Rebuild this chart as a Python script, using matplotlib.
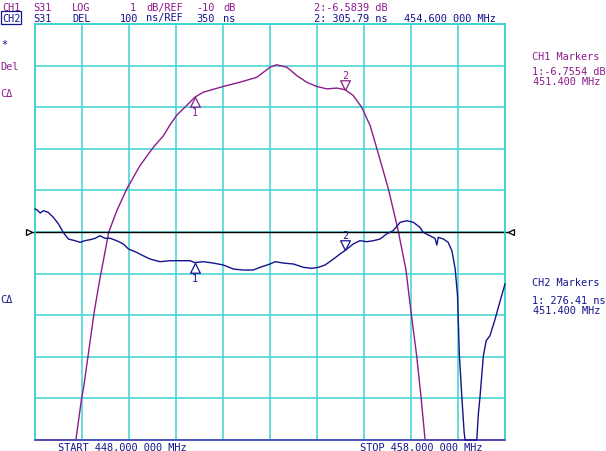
"""Network analyzer screen: S31 log magnitude (CH1) and group delay (CH2)."""
import matplotlib

matplotlib.use("Agg")
import matplotlib.pyplot as plt
from matplotlib.path import Path
import numpy as np

# CH1: S31 LOG MAG, frequency in MHz, level in dB (clipped at -15 dB on screen)
ch1_freq = [448.00, 448.87, 448.99, 449.03, 449.13, 449.26, 449.38, 449.57, 449.74,
            449.95, 450.23, 450.52, 450.73, 450.87, 451.01, 451.19, 451.40, 451.58,
            452.01, 452.36, 452.72, 453.00, 453.14, 453.36, 453.57, 453.78, 453.99,
            454.21, 454.42, 454.60, 454.77, 454.95, 455.13, 455.27, 455.52, 455.72,
            455.89, 456.01, 456.12, 456.21, 456.30, 458.00]
ch1_db = [-15.0, -15.0, -14.01, -13.77, -12.97, -11.92, -11.13, -10.00, -9.49,
          -8.97, -8.41, -7.96, -7.69, -7.43, -7.20, -7.00, -6.76, -6.64,
          -6.50, -6.40, -6.28, -6.04, -5.98, -6.04, -6.24, -6.40, -6.50,
          -6.56, -6.54, -6.58, -6.72, -7.00, -7.44, -7.98, -8.97, -9.93,
          -10.89, -12.01, -12.97, -13.93, -15.0, -15.0]

# CH2: S31 DELAY, frequency in MHz, delay in ns (clipped at -150 ns on screen)
ch2_freq = [448.00, 448.04, 448.11, 448.18, 448.28, 448.39, 448.50, 448.60, 448.71,
            448.85, 448.96, 449.06, 449.17, 449.28, 449.38, 449.49, 449.60, 449.74,
            449.88, 449.99, 450.16, 450.30, 450.45, 450.66, 450.87, 451.09, 451.30,
            451.40, 451.58, 451.79, 452.01, 452.22, 452.43, 452.64, 452.79, 453.00,
            453.11, 453.28, 453.50, 453.71, 453.89, 454.03, 454.17, 454.35, 454.49,
            454.60, 454.77, 454.91, 455.06, 455.20, 455.34, 455.48, 455.62, 455.77,
            455.91, 456.05, 456.19, 456.26, 456.40, 456.51, 456.55, 456.58, 456.69,
            456.79, 456.87, 456.94, 456.99, 457.03, 457.08, 457.13, 457.15, 457.40,
            457.43, 457.47, 457.54, 457.60, 457.68, 457.79, 457.89, 458.00]
ch2_ns = [405.3, 403.6, 395.6, 401.2, 397.3, 385.3, 369.2, 349.2, 333.1,
          329.1, 325.2, 329.1, 331.5, 334.8, 341.1, 334.8, 334.8, 329.1,
          321.1, 309.1, 301.1, 293.0, 285.0, 278.6, 281.0, 281.0, 281.0,
          276.4, 278.6, 275.4, 270.6, 261.0, 258.6, 258.6, 265.1, 273.0,
          278.6, 275.4, 273.0, 265.1, 262.7, 265.1, 270.6, 285.0, 297.1,
          305.8, 321.1, 329.1, 326.7, 329.1, 333.1, 345.2, 353.1, 373.3,
          377.1, 373.3, 361.3, 349.2, 341.1, 334.8, 318.7, 337.2, 333.1,
          325.2, 305.0, 261.0, 196.8, 52.6, -43.6, -130.8, -150.0, -150.0,
          -91.6, -43.6, 52.6, 88.7, 100.7, 140.8, 181.7, 225.0]

# marker readouts
ch1_markers = {"1": (451.40, -6.7554), "2": (454.60, -6.5839)}
ch2_markers = {"1": (451.40, 276.41), "2": (454.60, 305.79)}

PURPLE = "#8c1c8c"
NAVY = "#14148c"
GRID = "#3fd2d2"
W, H = 606, 452
FONT = dict(family="DejaVu Sans Mono", fontsize=7.4)

fig = plt.figure(figsize=(W / 100, H / 100), dpi=100)
fig.patch.set_facecolor("white")
ax = fig.add_axes([35 / W, (H - 441) / H, 470 / W, 416 / H])
ax2 = ax.twinx()

ax.set_xlim(448, 458)
ax.set_ylim(-15, -5)
ax2.set_ylim(-150, 850)
ax.set_xticks(np.linspace(448, 458, 11))
ax.set_yticks(np.linspace(-15, -5, 11))
ax.grid(True, color=GRID, lw=1.1)
for a in (ax, ax2):
    a.tick_params(left=False, right=False, bottom=False, top=False,
                  labelleft=False, labelright=False, labelbottom=False)
    a.set_yticks(a.get_yticks()) if a is ax else a.set_yticks([])
    for s in a.spines.values():
        s.set_color(GRID)
        s.set_linewidth(1.1)
    a.spines["bottom"].set_color("#4a50b8")
ax2.set_ylim(-150, 850)

ax.plot(ch1_freq, ch1_db, color=PURPLE, lw=1.0, clip_on=False, zorder=3)
ax2.plot(ch2_freq, ch2_ns, color=NAVY, lw=1.0, clip_on=False, zorder=3)

# reference line at center with end arrows
ax2.plot([447.85, 458.15], [350, 350], color="black", lw=1.0, clip_on=False)
ax2.plot([447.88], [350], marker=">", ms=4, mfc="white", mec="black",
         mew=0.9, clip_on=False)
ax2.plot([458.12], [350], marker="<", ms=4, mfc="white", mec="black",
         mew=0.9, clip_on=False)

up_tri = Path([(0, 0), (-0.5, -1), (0.5, -1), (0, 0)])
down_tri = Path([(0, 0), (-0.5, 1), (0.5, 1), (0, 0)])


def draw_markers(axis, marks, color):
    for lab, (f, v) in marks.items():
        if lab == "1":
            axis.plot([f], [v], marker=up_tri, ms=14, mfc="none", mec=color,
                      mew=0.9, zorder=4)
            axis.annotate(lab, (f, v), xytext=(0, -11), textcoords="offset points",
                          ha="center", va="center", color=color, **FONT)
        else:
            axis.plot([f], [v], marker=down_tri, ms=14, mfc="none", mec=color,
                      mew=0.9, zorder=4)
            axis.annotate(lab, (f, v), xytext=(0, 11), textcoords="offset points",
                          ha="center", va="center", color=color, **FONT)


draw_markers(ax, ch1_markers, PURPLE)
draw_markers(ax2, ch2_markers, NAVY)


def put(x, y, s, color, ha="left", **kw):
    return fig.text(x / W, 1 - y / H, s, color=color, ha=ha, va="center",
                    **FONT, **kw)


# header row 1 (CH1)
put(2, 8, "CH1", PURPLE)
fig.add_artist(plt.Line2D([2 / W, 21 / W], [1 - 12.5 / H] * 2, color=PURPLE, lw=0.8))
put(33, 8, "S31", PURPLE)
put(72, 8, "LOG", PURPLE)
put(130, 8, "1", PURPLE)
put(146, 8, "dB/REF", PURPLE)
put(196, 8, "-10", PURPLE)
put(223, 8, "dB", PURPLE)
put(314, 8, "2:-6.5839 dB", PURPLE)

# header row 2 (CH2)
put(2, 18.5, "CH2", NAVY,
    bbox=dict(boxstyle="square,pad=0.1", fc="white", ec=NAVY, lw=0.9))
put(33, 18.5, "S31", NAVY)
put(72, 18.5, "DEL", NAVY)
put(120, 18.5, "100", NAVY)
put(146, 18.5, "ns/REF", NAVY)
put(196, 18.5, "350", NAVY)
put(223, 18.5, "ns", NAVY)
put(314, 18.5, "2: 305.79 ns", NAVY)
put(404, 18.5, "454.600 000 MHz", NAVY)

# left annotations
put(1, 45, "*", NAVY)
put(0, 67, "Del", PURPLE)
put(0, 94, "C\u0394", PURPLE)
put(0, 300, "C\u0394", NAVY)

# right marker tables
put(532, 57, "CH1 Markers", PURPLE)
put(532, 72, "1:-6.7554 dB", PURPLE)
put(600, 82, "451.400 MHz", PURPLE, ha="right")
put(532, 283, "CH2 Markers", NAVY)
put(532, 301.5, "1: 276.41 ns", NAVY)
put(600, 311, "451.400 MHz", NAVY, ha="right")

# bottom
put(58, 448, "START 448.000 000 MHz", NAVY)
put(360, 448, "STOP 458.000 000 MHz", NAVY)

fig.savefig("out.png", dpi=100, facecolor="white")
